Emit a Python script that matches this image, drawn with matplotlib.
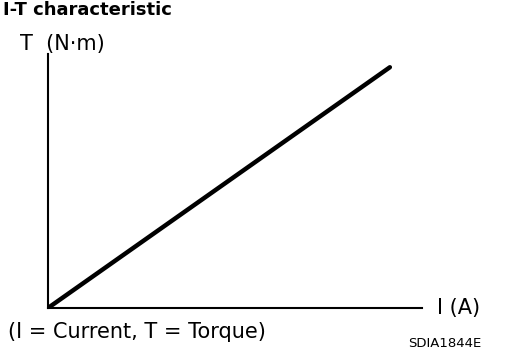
import matplotlib
matplotlib.use('Agg')
import matplotlib.pyplot as plt

# I-T characteristic: torque rises linearly with current
current = [0.0, 1.0]
torque = [0.0, 1.0]

plt.rcParams['font.family'] = ['DejaVu Sans']

fig = plt.figure(figsize=(5.12, 3.52), dpi=100)
ax = fig.add_axes([48 / 512, 44 / 352, 374 / 512, 254 / 352])

ax.plot(current, torque, color='black', linewidth=3.2, solid_capstyle='round')
ax.set_xlim(0, 1.094)
ax.set_ylim(0, 1.055)

for side in ['top', 'right']:
    ax.spines[side].set_visible(False)
for side in ['left', 'bottom']:
    ax.spines[side].set_linewidth(1.5)
ax.set_xticks([])
ax.set_yticks([])

fig.text(3 / 512, 1 - 15 / 352, 'I-T characteristic', fontsize=13, fontweight='bold')
fig.text(20 / 512, 1 - 50 / 352, 'T  (N·m)', fontsize=15)
fig.text(437 / 512, 1 - 308 / 352, 'I (A)', fontsize=15, va='center')
fig.text(8 / 512, 1 - 338 / 352, '(I = Current, T = Torque)', fontsize=15)
fig.text(408 / 512, 1 - 347 / 352, 'SDIA1844E', fontsize=9.5)

fig.savefig('out.png', dpi=100)
